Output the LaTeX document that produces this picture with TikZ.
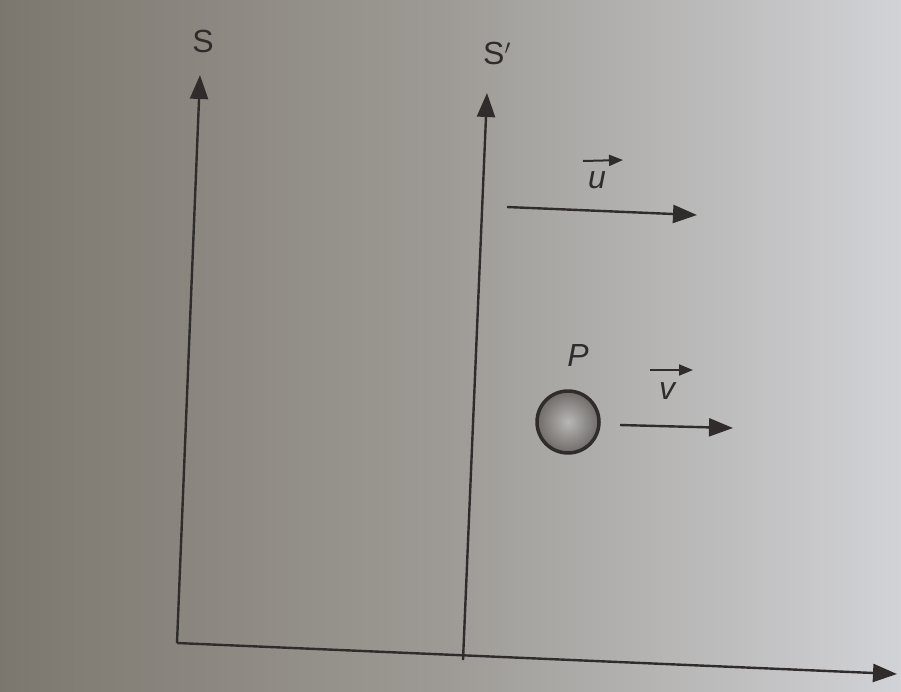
\documentclass[tikz,border=0pt]{standalone}
\usepackage{fontspec}
\setmainfont{Liberation Sans}
\usetikzlibrary{arrows.meta}
\definecolor{bgL}{RGB}{124,119,110}
\definecolor{bgM}{RGB}{158,155,150}
\definecolor{bgR}{RGB}{210,211,215}
\definecolor{ink}{RGB}{48,44,44}
\definecolor{ballin}{RGB}{185,183,181}
\definecolor{ballout}{RGB}{110,107,105}
\tikzset{
  axis/.style={draw=ink, line width=2.4pt, -{Triangle[length=24pt,width=18pt]}},
  vecarr/.style={draw=ink, line width=2.4pt, -{Triangle[length=24pt,width=18pt]}},
  labarr/.style={draw=ink, line width=2pt, -{Triangle[length=14pt,width=11pt]}},
  lab/.style={text=ink, font=\fontsize{32}{36}\selectfont, inner sep=0pt},
  ball/.style={circle, minimum size=62pt, draw=ink, line width=3.5pt, inner color=ballin, outer color=ballout, inner sep=0pt}
}
\begin{document}
\begin{tikzpicture}[x=1pt,y=-1pt]
\useasboundingbox (0,0) rectangle (901,691);
\shade[left color=bgL, right color=bgR, middle color=bgM] (0,0) rectangle (901,691);
% named points
\coordinate (O) at (177,643);
\coordinate (Stop) at (200,75);
\coordinate (Obot) at (463,660);
\coordinate (Sptop) at (487,93);
\coordinate (Xtip) at (897,674);
\coordinate (ustart) at (507,207);
\coordinate (utip) at (697,215);
\coordinate (vstart) at (620,425);
\coordinate (vtip) at (733,428);
% labels
\node[lab] (S) at (203,41) {S};
\node[lab] (Sp) at (497,53) {S$'$};
\node[lab] (P) at (578,355) {\itshape P};
\node[lab] (u) at (597,180) {\itshape u};
\node[lab] (v) at (667,391) {\itshape v};
\coordinate (ua0) at (583,161); \coordinate (ua1) at (623,160);
\coordinate (va0) at (650,370); \coordinate (va1) at (693,370);
% axes
\draw[axis] (O) -- (Stop);
\draw[axis] (Obot) -- (Sptop);
\draw[axis] (O) -- (Xtip);
% ball
\node[ball] (ball) at (568,422) {};
% velocity arrows
\draw[vecarr] (ustart) -- (utip);
\draw[vecarr] (vstart) -- (vtip);
\draw[labarr] (ua0) -- (ua1);
\draw[labarr] (va0) -- (va1);
\end{tikzpicture}
\end{document}
